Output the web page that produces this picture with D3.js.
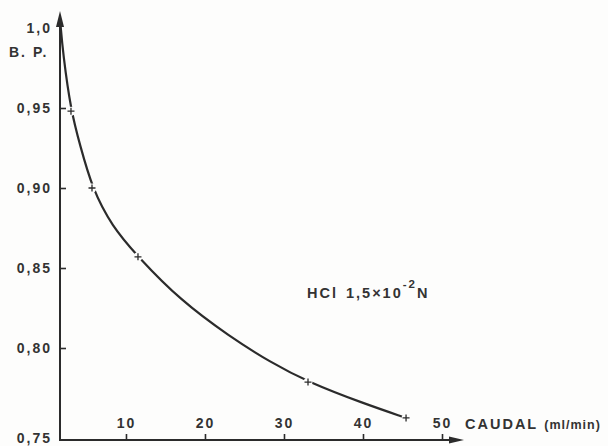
<!DOCTYPE html>
<html lang="es">
<head>
<meta charset="UTF-8">
<title>B.P. vs Caudal</title>
<script src="https://d3js.org/d3.v7.min.js"></script>
<style>
body { margin: 0; background: #fdfdfc; }
.lbl { font-family: "Liberation Sans", Arial, sans-serif; font-weight: bold; fill: #333; letter-spacing: 2px; }
</style>
</head>
<body>
<div id="chart"></div>
<script>
var caudal = [3.04, 5.70, 11.52, 33.04, 45.45];
var bp     = [0.948, 0.900, 0.857, 0.7815, 0.762];

// the drawn curve, read along its length
var curveX = [1.7, 2.03, 3.04, 4.18, 5.70, 8.23, 11.52, 16.84, 23.17, 28.23, 33.04, 40.0, 45.45];
var curveY = [1.003, 0.984, 0.948, 0.927, 0.900, 0.876, 0.857, 0.830, 0.807, 0.7924, 0.7815, 0.770, 0.762];

var xTicks = [10, 20, 30, 40, 50];
var yTicks = [0.75, 0.80, 0.85, 0.90, 0.95, 1.0];
var yTickLabels = ["0,75", "0,80", "0,85", "0,90", "0,95", "1,0"];

var W = 608, H = 446;
var svg = d3.select("#chart").append("svg")
    .attr("width", W).attr("height", H);

// x starts where the vertical axis is drawn
var x = d3.scaleLinear().domain([1.65, 50]).range([60, 442]);
// the hand-drawn axis is slightly uneven at the bottom
var y = d3.scaleLinear().domain([0.75, 0.80, 1.0]).range([440, 348, 28]);

var ink = "#2b2b2b";

// axis lines with arrows
svg.append("line")
  .attr("x1", 60).attr("y1", 440).attr("x2", 60).attr("y2", 20)
  .attr("stroke", ink).attr("stroke-width", 2);
svg.append("path")
  .attr("d", "M60,11 L56,27 L64,27 Z").attr("fill", ink);
svg.append("line")
  .attr("x1", 59).attr("y1", 440).attr("x2", 455).attr("y2", 440)
  .attr("stroke", ink).attr("stroke-width", 2);
svg.append("path")
  .attr("d", "M464,440 L449,436.5 L449,443.5 Z").attr("fill", ink);

// y axis ticks (pointing inward) and labels
var yAxis = d3.axisLeft(y)
  .tickValues(yTicks)
  .tickSizeInner(-6).tickSizeOuter(0)
  .tickPadding(8)
  .tickFormat(function (d, i) { return yTickLabels[i]; });
var gy = svg.append("g").attr("transform", "translate(60,0)").call(yAxis);
gy.select(".domain").remove();
gy.selectAll(".tick line").attr("stroke", ink).attr("stroke-width", 1.6)
  .filter(function (d) { return d === 0.75 || d === 1.0; }).remove();
gy.selectAll(".tick text").attr("class", "lbl").attr("font-size", 14)
  .attr("font-family", null);
gy.selectAll(".tick text").filter(function (d) { return d === 0.75; }).attr("dy", "0.2em");

// x axis ticks (pointing up) with labels above the axis
var xAxis = d3.axisTop(x)
  .tickValues(xTicks)
  .tickSizeInner(6).tickSizeOuter(0)
  .tickPadding(6);
var gx = svg.append("g").attr("transform", "translate(0,440)").call(xAxis);
gx.select(".domain").remove();
gx.selectAll(".tick line").attr("stroke", ink).attr("stroke-width", 1.6);
gx.selectAll(".tick text").attr("class", "lbl").attr("font-size", 14)
  .attr("font-family", null);

// axis titles
svg.append("text").attr("class", "lbl").attr("font-size", 14)
  .attr("x", 9).attr("y", 57).text("B. P.");
var xt = svg.append("text").attr("class", "lbl").attr("font-size", 14.5)
  .attr("x", 465).attr("y", 429).text("CAUDAL");
xt.append("tspan").attr("dx", 6).attr("font-size", 12.5).style("letter-spacing", "1px").text("(ml/min)");

// annotation
var ann = svg.append("text").attr("class", "lbl").attr("font-size", 14.5)
  .attr("x", 307).attr("y", 298).text("HCl");
ann.append("tspan").attr("dx", 8).text("1,5\u00d710");
ann.append("tspan").attr("font-size", 11.5).attr("dy", -10).text("-2");
ann.append("tspan").attr("dy", 10).attr("dx", 0).text("N");

// curve
var pts = curveX.map(function (d, i) { return [d, curveY[i]]; });
var line = d3.line()
  .x(function (d) { return x(d[0]); })
  .y(function (d) { return y(d[1]); })
  .curve(d3.curveBasis);
svg.append("path").datum(pts)
  .attr("d", line)
  .attr("fill", "none").attr("stroke", ink).attr("stroke-width", 2.2);

// crosses with a small gap in the curve around each
var data = caudal.map(function (d, i) { return { c: d, b: bp[i] }; });
var cr = svg.append("g").selectAll("g").data(data).enter().append("g")
  .attr("transform", function (d) { return "translate(" + x(d.c) + "," + y(d.b) + ")"; });
cr.append("circle").attr("r", 4.5).attr("fill", "#fdfdfc");
cr.append("path").attr("d", "M-3.5,0 L3.5,0 M0,-3.5 L0,3.5")
  .attr("stroke", ink).attr("stroke-width", 1.3);
</script>
</body>
</html>
